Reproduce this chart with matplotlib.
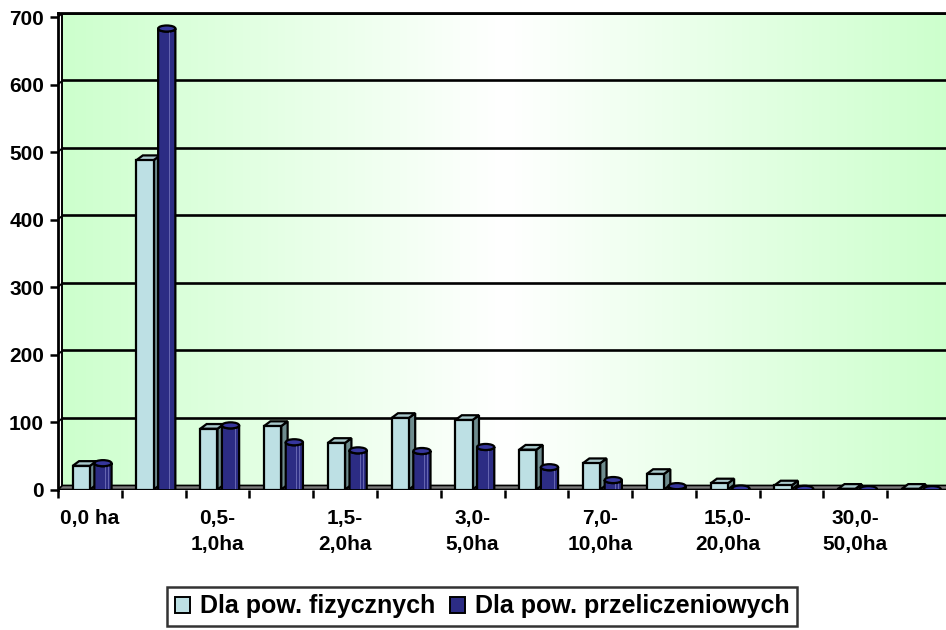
import matplotlib

matplotlib.use("Agg")
import matplotlib.pyplot as plt
import numpy as np
from matplotlib.colors import LinearSegmentedColormap
from matplotlib.patches import Ellipse, Polygon, Rectangle

plt.rcParams["font.family"] = ["Liberation Sans", "DejaVu Sans"]
plt.rcParams["font.weight"] = "bold"
plt.rcParams["font.size"] = 15

# data
categories = [
    "0,0 ha", "0,0-\n0,5ha", "0,5-\n1,0ha", "1,0-\n1,5ha", "1,5-\n2,0ha",
    "2,0-\n3,0ha", "3,0-\n5,0ha", "5,0-\n7,0ha", "7,0-\n10,0ha", "10,0-\n15,0ha",
    "15,0-\n20,0ha", "20,0-\n30,0ha", "30,0-\n50,0ha", "pow.\n50,0ha",
]
fizyczne = [35, 488, 90, 94, 69, 106, 103, 59, 39, 23, 9, 6, 1, 1]
przeliczeniowe = [39, 683, 95, 70, 58, 57, 63, 33, 14, 5, 1.5, 1, 0.5, 0.5]
yticks = [0, 100, 200, 300, 400, 500, 600, 700]
series_names = ["Dla pow. fizycznych", "Dla pow. przeliczeniowych"]

light = "#bde0e4"
light_top = "#a9c9cc"
light_side = "#6e8c8e"
dark = "#2c2c84"
dark_top = "#36369c"
dark_hi = "#6464b0"

W, H = 946, 630
fig = plt.figure(figsize=(W / 100, H / 100), dpi=100)
left, right, bottom, top = 58, 951, 489.5, 13
ax = fig.add_axes([left / W, 1 - bottom / H, (right - left) / W, (bottom - top) / H])

n = len(categories)
wall_dx, wall_dy = 0.07, 6  # depth offset of the back wall
ymax = yticks[-1] + wall_dy
ax.set_xlim(0, n)
ax.set_ylim(0, ymax)

# background gradient
cmap = LinearSegmentedColormap.from_list("bg", ["#ccffcc", "#ffffff", "#ccffcc"])
ax.imshow(np.linspace(0, 1, 256)[None, :], cmap=cmap, aspect="auto",
          extent=(0, n, 0, ymax), zorder=0)

# side wall
ax.add_patch(Polygon([(0, 0), (wall_dx, wall_dy), (wall_dx, ymax), (0, ymax)],
                     closed=True, facecolor="white", edgecolor="none", zorder=0.5))

# gridlines on the back wall
for v in yticks[1:]:
    ax.plot([wall_dx, n], [v + wall_dy, v + wall_dy], color="black", lw=1.9, zorder=1)
    ax.plot([0, wall_dx], [v, v + wall_dy], color="black", lw=1.2, zorder=1)
ax.plot([wall_dx, wall_dx], [wall_dy, ymax], color="black", lw=1.4, zorder=1)

# floor
ax.add_patch(Polygon([(0, 0), (n, 0), (n + wall_dx, wall_dy), (wall_dx, wall_dy)],
                     closed=True, facecolor="#7a7a7a", edgecolor="black", lw=1.2, zorder=1))

bw = 0.27
bdx, bdy = 0.1, 7
eh = 9  # ellipse height in data units
elw = 1.6


def box(x, v):
    ax.add_patch(Polygon([(x + bw, 0), (x + bw + bdx, bdy), (x + bw + bdx, v + bdy), (x + bw, v)],
                         closed=True, facecolor=light_side, edgecolor="black", lw=elw, zorder=3))
    ax.add_patch(Polygon([(x, v), (x + bw, v), (x + bw + bdx, v + bdy), (x + bdx, v + bdy)],
                         closed=True, facecolor=light_top, edgecolor="black", lw=elw, zorder=3))
    ax.add_patch(Rectangle((x, 0), bw, v, facecolor=light, edgecolor="black", lw=elw, zorder=3))


def cylinder(x, v):
    cx = x + bw / 2
    t = np.linspace(np.pi, 2 * np.pi, 40)
    top_arc = np.column_stack([cx + bw / 2 * np.cos(t), v + eh / 2 * np.sin(t)])
    bot_arc = np.column_stack([cx + bw / 2 * np.cos(t[::-1]), eh / 2 * np.sin(t[::-1])])
    body = np.vstack([[[x, 0], [x, v]], top_arc, [[x + bw, v], [x + bw, 0]], bot_arc])
    ax.add_patch(Polygon(body, closed=True, facecolor=dark, edgecolor="black", lw=elw, zorder=4))
    if v > 8:
        for f in (0.62, 0.78):
            ax.add_patch(Rectangle((x + bw * f, 0), bw * 0.05, v, facecolor=dark_hi,
                                   edgecolor="none", zorder=4))
    ax.add_patch(Ellipse((cx, v), bw, eh, facecolor=dark_top, edgecolor="black", lw=elw, zorder=4))


for i in range(n):
    box(i + 0.23, fizyczne[i])
    cylinder(i + 0.57, przeliczeniowe[i])

# axes styling
for s in ["right", "bottom"]:
    ax.spines[s].set_visible(False)
ax.spines["top"].set_linewidth(2)
ax.spines["left"].set_linewidth(2)
ax.spines["left"].set_zorder(5)

ax.set_yticks(yticks)
ax.tick_params(axis="y", direction="out", length=6, width=1.8, pad=4, labelsize=15)
ax.set_xticks(np.arange(0, n + 1))
ax.set_xticklabels([])
ax.tick_params(axis="x", which="major", direction="out", length=6, width=1.8)
ax.set_xticks(np.arange(0, n, 2) + 0.5, minor=True)
ax.set_xticklabels(categories[::2], minor=True, linespacing=1.45)
ax.tick_params(axis="x", which="minor", length=0, pad=14, labelsize=15)
ax.axhline(0, color="black", lw=2, zorder=5)

handles = [Rectangle((0, 0), 1, 1, facecolor=light, edgecolor="black", lw=1.4),
           Rectangle((0, 0), 1, 1, facecolor=dark, edgecolor="black", lw=1.4)]
leg = fig.legend(handles, series_names, loc="upper center", bbox_to_anchor=(482 / W, 1 - 587 / H),
                 ncol=2, frameon=True, fancybox=False, edgecolor="black", fontsize=18,
                 handlelength=0.6, handleheight=0.6, handletextpad=0.4, columnspacing=0.6,
                 borderpad=0.3, borderaxespad=0)
leg.get_frame().set_linewidth(1.8)

fig.savefig("out.png", dpi=100)
